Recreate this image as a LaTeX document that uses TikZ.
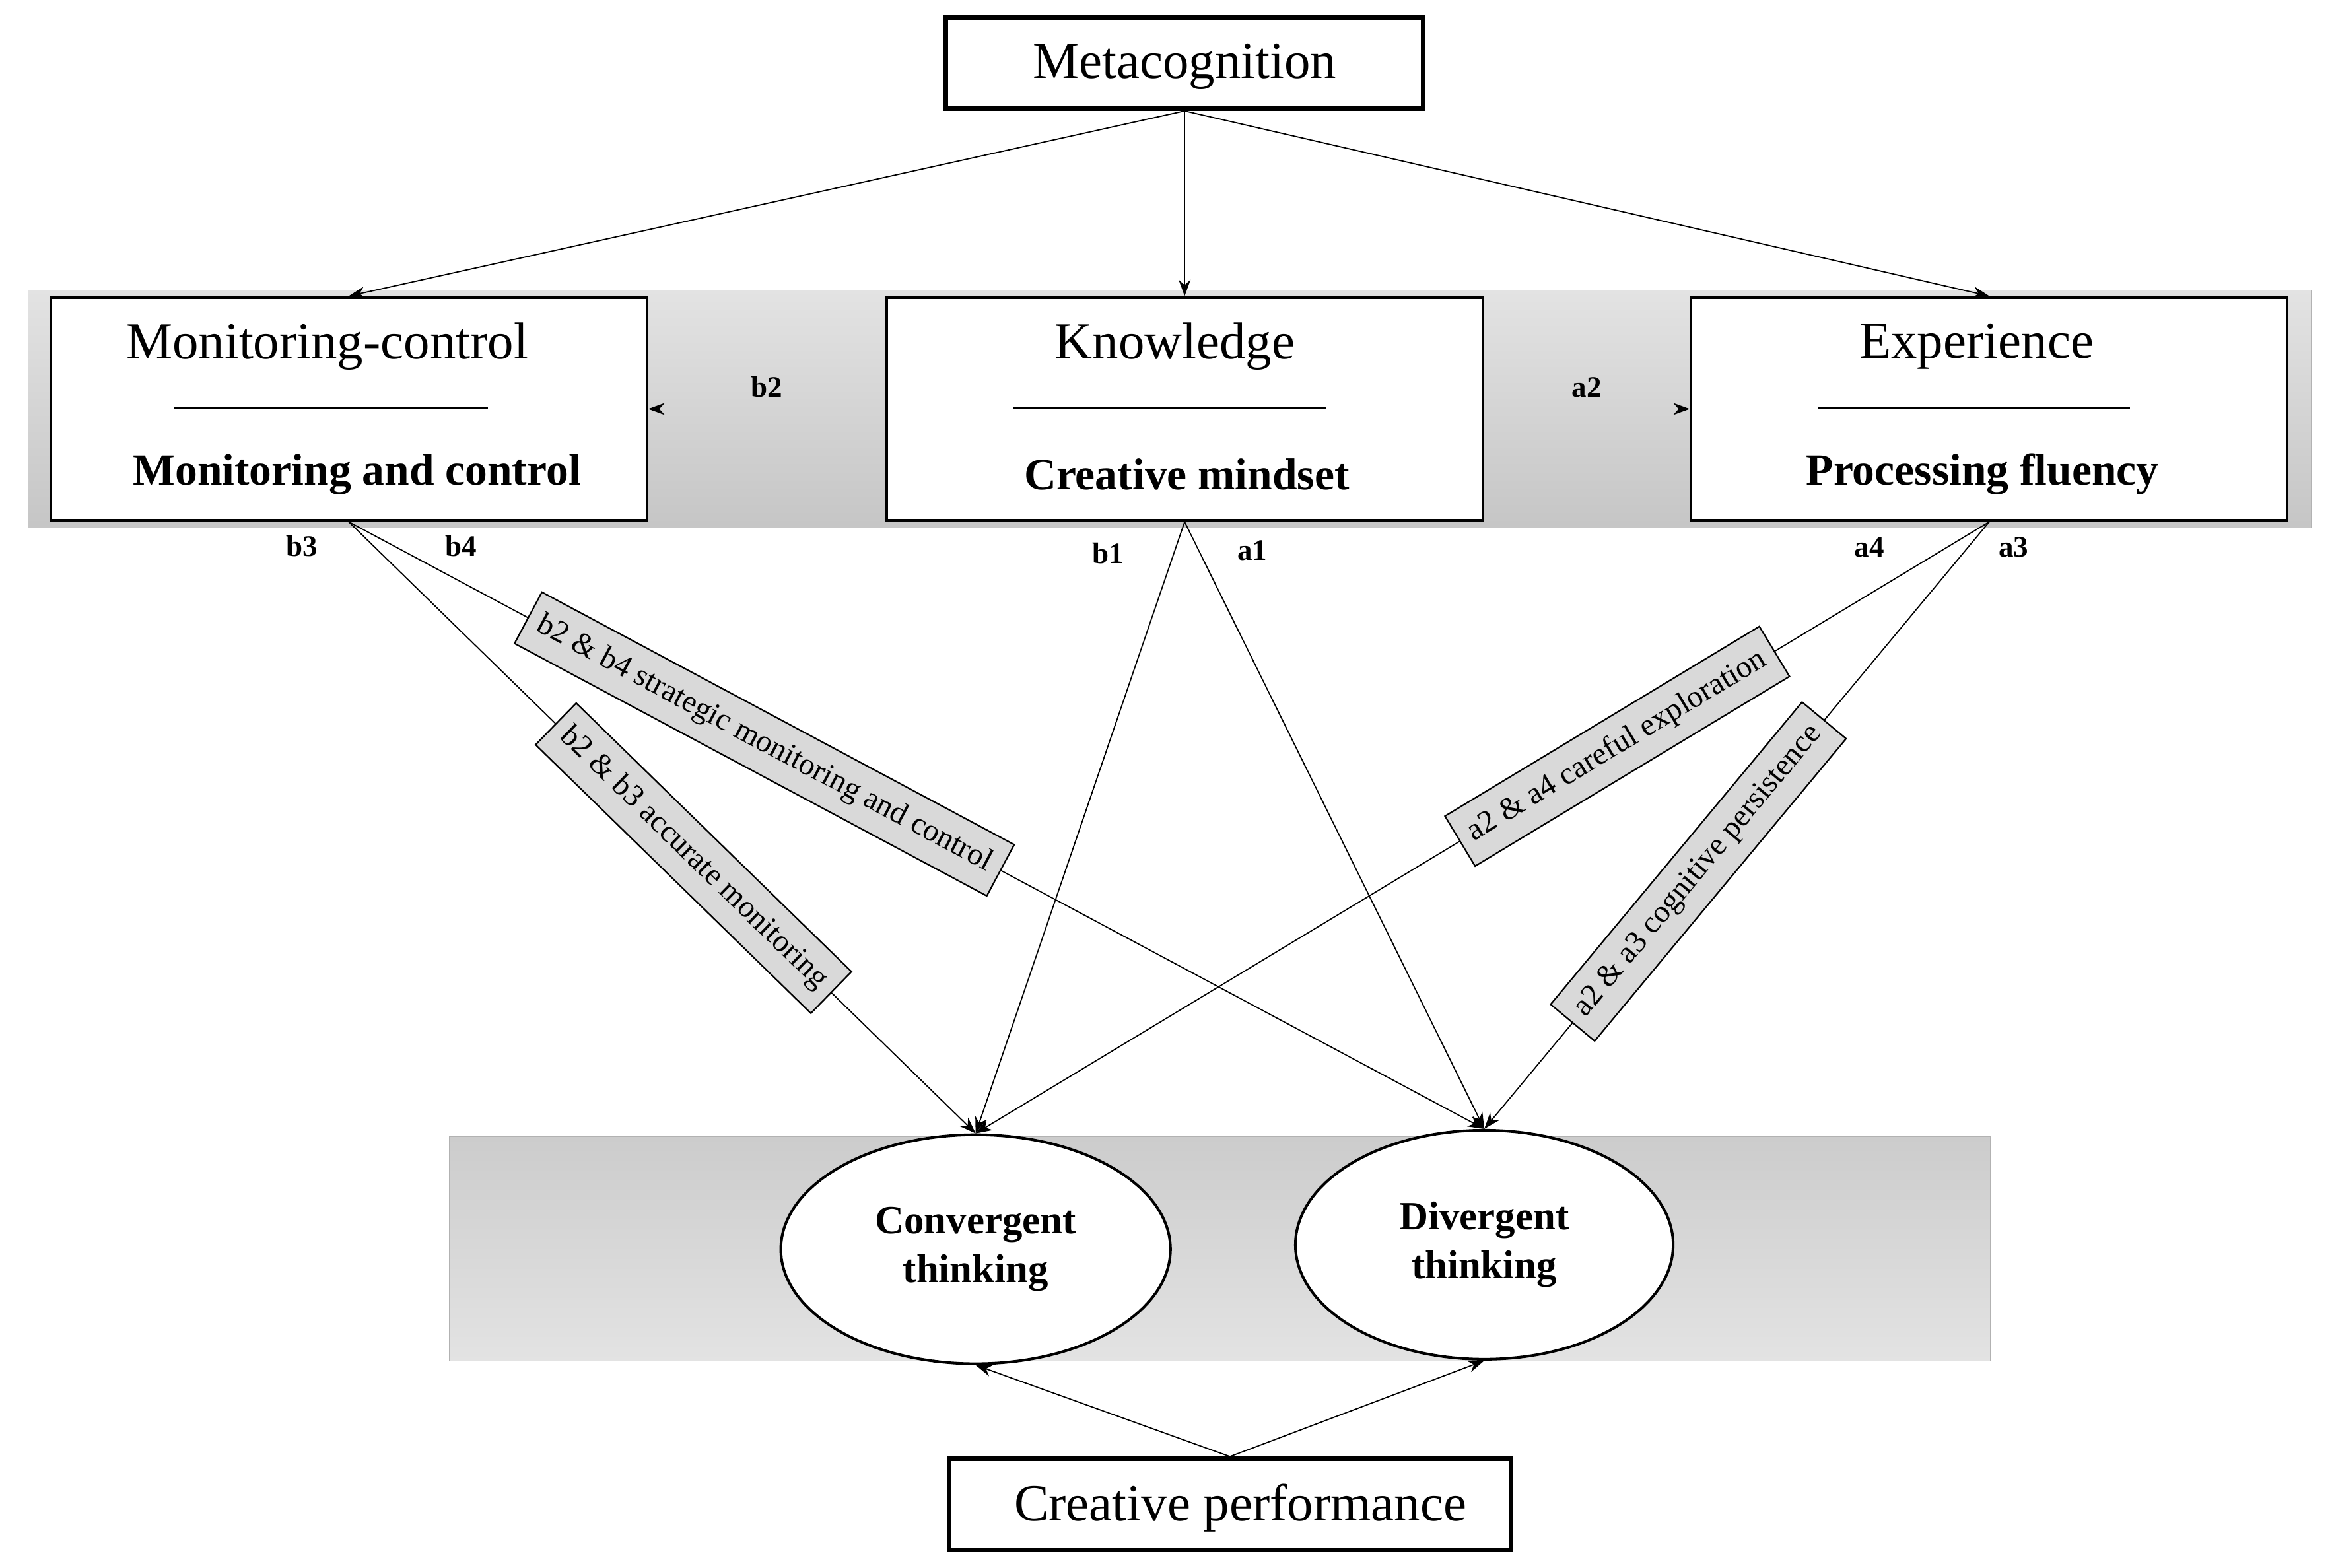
\documentclass[tikz,border=0pt]{standalone}
\usepackage{fontspec}
\setmainfont{Liberation Serif}
\usetikzlibrary{arrows.meta,shapes.geometric}
\begin{document}
\begin{tikzpicture}[x=1pt,y=-1pt,
  box/.style={draw,line width=1.8pt,fill=white,minimum width=401pt,minimum height=150pt,inner sep=0},
  tbox/.style={draw,line width=3.2pt,fill=white,inner sep=0},
  ttl/.style={font=\fontsize{35}{40}\selectfont},
  bld/.style={font=\bfseries\fontsize{30}{34}\selectfont},
  lab/.style={font=\bfseries\fontsize{20}{24}\selectfont},
  rlab/.style={draw,line width=1pt,fill=gray!30,font=\fontsize{21}{24}\selectfont,inner xsep=8pt,inner ysep=10pt,sloped},
  ell/.style={draw,ellipse,line width=1.8pt,fill=white,minimum width=262pt,minimum height=154pt,align=center,font=\bfseries\fontsize{27}{33}\selectfont},
  ln/.style={line width=0.8pt},
  arr/.style={line width=0.8pt,-{Stealth[length=11pt,width=8pt]}}]
\useasboundingbox (0,0) rectangle (1568,1054);
% bands
\shade[top color=gray!22,bottom color=gray!45,draw=gray!60] (19,195) rectangle (1554,355);
\shade[top color=gray!40,bottom color=gray!22,draw=gray!60] (302,764) rectangle (1338,915);
% top nodes
\node[tbox,minimum width=321pt,minimum height=61pt] (meta) at (796.5,42.5) {};
\node[ttl] (metat) at (796.5,45) {Metacognition};
\node[box] (mc) at (234.5,275) {};
\node[box] (kn) at (796.5,275) {};
\node[box] (ex) at (1337.5,275) {};
\node[ttl] (mct) at (220,233) {Monitoring-control};
\node[bld] (mcb) at (240,319) {Monitoring and control};
\draw[line width=1.2pt] (117,274) -- (328,274);
\node[ttl] (knt) at (790,233) {Knowledge};
\node[bld] (knb) at (798,319) {Creative mindset};
\draw[line width=1.2pt] (681,274) -- (892,274);
\node[ttl] (ext) at (1329,233) {Experience};
\node[bld] (exb) at (1333,319) {Processing fluency};
\draw[line width=1.2pt] (1222,274) -- (1432,274);
% ellipses and bottom
\node[ell] (conv) at (656,840) {Convergent\\thinking};
\node[ell,minimum width=254pt] (div) at (998,837) {Divergent\\thinking};
\node[tbox,minimum width=378pt,minimum height=61pt] (cp) at (827,1011.5) {};
\node[ttl] (cpt) at (834,1014) {Creative performance};
% arrows from metacognition
\draw[arr] (meta.south) -- (mc.north);
\draw[arr] (meta.south) -- (kn.north);
\draw[arr] (meta.south) -- (ex.north);
% horizontal
\draw[arr] (kn.west) -- node[lab,above=4pt] (lb2) {b2} (mc.east);
\draw[arr] (kn.east) -- node[lab,above=4pt] (la2) {a2} (ex.west);
% cross paths
\draw[arr] (kn.south) -- (conv.north);
\draw[arr] (kn.south) -- (div.north);
\draw[arr] (mc.south) -- node[rlab,pos=0.55] (r1) {b2 \& b3 accurate monitoring} (conv.north);
\draw[arr] (mc.south) -- node[rlab,pos=0.366] (r2) {b2 \& b4 strategic monitoring and control} (div.north);
\draw[arr] (ex.south) -- node[rlab,pos=0.367] (r3) {a2 \& a4 careful exploration} (conv.north);
\draw[arr] (ex.south) -- node[rlab,pos=0.576] (r4) {a2 \& a3 cognitive persistence} (div.north);
\draw[arr] (cp.north) -- (conv.south);
\draw[arr] (cp.north) -- (div.south);
% labels
\node[lab] (lb3) at (203,367) {b3};
\node[lab] (lb4) at (310,367) {b4};
\node[lab] (lb1) at (745,372) {b1};
\node[lab] (la1) at (842,370) {a1};
\node[lab] (la4) at (1257,368) {a4};
\node[lab] (la3) at (1354,368) {a3};
\end{tikzpicture}
\end{document}
